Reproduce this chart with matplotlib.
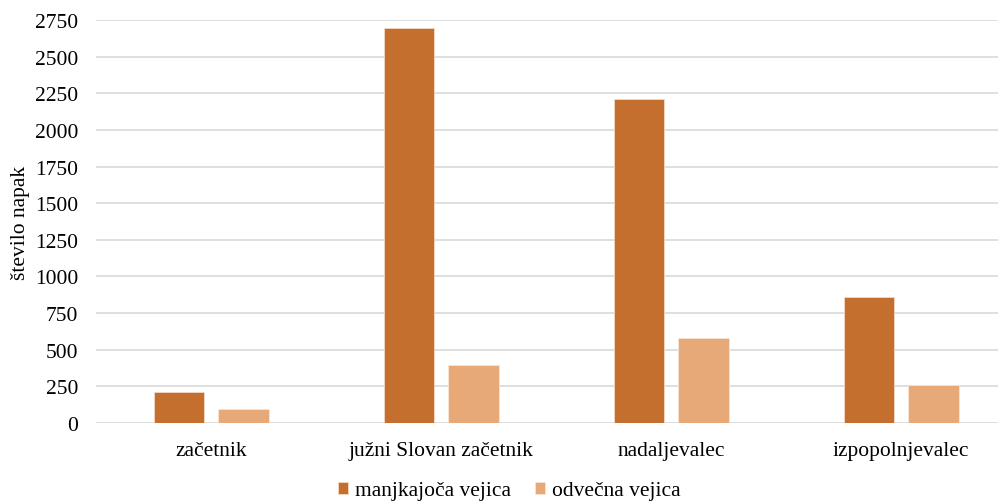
import matplotlib.pyplot as plt
import numpy as np

categories = ['začetnik', 'južni Slovan začetnik', 'nadaljevalec', 'izpopolnjevalec']
manjkajoca = [210, 2695, 2210, 858]
odvecna = [95, 395, 578, 262]
series_names = ['manjkajoča vejica', 'odvečna vejica']

plt.rcParams['font.family'] = ['Liberation Serif', 'DejaVu Serif']
plt.rcParams['font.size'] = 15.5

fig = plt.figure(figsize=(9.98, 5.02), dpi=100)
ax = fig.add_axes([96 / 998, 78 / 502, (998 - 96) / 998, (424 - 21) / 502])

x = np.arange(len(categories))
w = 0.22
ax.bar(x - 0.14, manjkajoca, w, color='#C46F2E', edgecolor='#F4D9C4', linewidth=0.6,
       label=series_names[0], zorder=3)
ax.bar(x + 0.14, odvecna, w, color='#E6A977', edgecolor='#F8E6D6', linewidth=0.6,
       label=series_names[1], zorder=3)

ax.set_xlim(-0.5, -0.5 + (998 - 96) / 230)
ax.set_ylim(0, 2750)
ax.set_yticks(np.arange(0, 2751, 250))
ax.set_xticks(x)
ax.set_xticklabels(categories)
ax.grid(axis='y', color='#D9D9D9', linewidth=1.2, zorder=0)
for s in ax.spines.values():
    s.set_visible(False)
ax.tick_params(length=0)
ax.tick_params(axis='y', pad=13)
ax.tick_params(axis='x', pad=13)
ax.set_ylabel('število napak', labelpad=3)

fig.legend(loc='center', bbox_to_anchor=(509 / 998, 1 - 492 / 502), ncol=2, frameon=False,
           handlelength=0.5, handleheight=0.5, handletextpad=0.3, columnspacing=1.1,
           fontsize=15.5)

fig.savefig('out.png', dpi=100)
